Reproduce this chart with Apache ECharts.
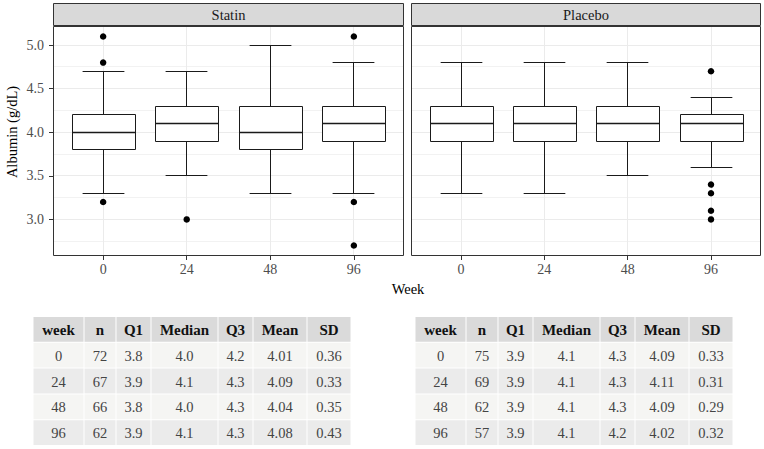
<!DOCTYPE html>
<html><head><meta charset="utf-8">
<script src="https://cdn.jsdelivr.net/npm/echarts@6/dist/echarts.min.js"></script>
<style>html,body{margin:0;padding:0;background:#fff;}#chart{width:764px;height:449px;}</style>
</head><body><div id="chart"></div>
<script>
// ---------- data ----------
const weeks = ['0', '24', '48', '96'];
const panelNames = ['Statin', 'Placebo'];
// [lower whisker, Q1, median, Q3, upper whisker]
const statinBox = [
  [3.3, 3.8, 4.0, 4.2, 4.7],
  [3.5, 3.9, 4.1, 4.3, 4.7],
  [3.3, 3.8, 4.0, 4.3, 5.0],
  [3.3, 3.9, 4.1, 4.3, 4.8]
];
const placeboBox = [
  [3.3, 3.9, 4.1, 4.3, 4.8],
  [3.3, 3.9, 4.1, 4.3, 4.8],
  [3.5, 3.9, 4.1, 4.3, 4.8],
  [3.6, 3.9, 4.1, 4.2, 4.4]
];
// [week index, value]
const statinOutliers = [[0, 5.1], [0, 4.8], [0, 3.2], [1, 3.0], [3, 5.1], [3, 3.2], [3, 2.7]];
const placeboOutliers = [[3, 4.7], [3, 3.4], [3, 3.3], [3, 3.1], [3, 3.0]];
const yTicks = [3.0, 3.5, 4.0, 4.5, 5.0];
const yMinor = [2.75, 3.25, 3.75, 4.25, 4.75];
const yRange = [2.58, 5.22];
const tableHeader = ['week', 'n', 'Q1', 'Median', 'Q3', 'Mean', 'SD'];
const statinTable = [
  ['0', '72', '3.8', '4.0', '4.2', '4.01', '0.36'],
  ['24', '67', '3.9', '4.1', '4.3', '4.09', '0.33'],
  ['48', '66', '3.8', '4.0', '4.3', '4.04', '0.35'],
  ['96', '62', '3.9', '4.1', '4.3', '4.08', '0.43']
];
const placeboTable = [
  ['0', '75', '3.9', '4.1', '4.3', '4.09', '0.33'],
  ['24', '69', '3.9', '4.1', '4.3', '4.11', '0.31'],
  ['48', '62', '3.9', '4.1', '4.3', '4.09', '0.29'],
  ['96', '57', '3.9', '4.1', '4.2', '4.02', '0.32']
];

// ---------- layout ----------
const FONT = 'Liberation Serif, DejaVu Serif, serif';
const panels = [
  { left: 53, width: 351, boxes: statinBox, outliers: statinOutliers },
  { left: 411, width: 350, boxes: placeboBox, outliers: placeboOutliers }
];
const PTOP = 26, PH = 230, STRIP_TOP = 3;
const BOX_W = 0.75, CAP_W = 0.5;
const INK = '#1a1a1a';
const crisp = v => Math.round(v - 0.5) + 0.5;

function renderBox(params, api) {
  const x = api.value(0);
  const lo = api.coord([x, api.value(1)]);
  const q1 = api.coord([x, api.value(2)]);
  const md = api.coord([x, api.value(3)]);
  const q3 = api.coord([x, api.value(4)]);
  const hi = api.coord([x, api.value(5)]);
  const bw = Math.round(api.size([BOX_W, 0])[0]);
  const cw = api.size([CAP_W, 0])[0];
  const cx = crisp(lo[0]);
  const st = { stroke: INK, lineWidth: 1, fill: null };
  const y = v => crisp(v);
  const bx = Math.round(cx - bw / 2) + 0.5;
  return {
    type: 'group', children: [
      { type: 'line', shape: { x1: cx, y1: y(hi[1]), x2: cx, y2: y(q3[1]) }, style: st },
      { type: 'line', shape: { x1: cx, y1: y(q1[1]), x2: cx, y2: y(lo[1]) }, style: st },
      { type: 'line', shape: { x1: cx - cw / 2, y1: y(hi[1]), x2: cx + cw / 2, y2: y(hi[1]) }, style: st },
      { type: 'line', shape: { x1: cx - cw / 2, y1: y(lo[1]), x2: cx + cw / 2, y2: y(lo[1]) }, style: st },
      { type: 'rect', shape: { x: bx, y: y(q3[1]), width: bw, height: y(q1[1]) - y(q3[1]) },
        style: { stroke: INK, lineWidth: 1, fill: '#fff' } },
      { type: 'line', shape: { x1: bx, y1: y(md[1]), x2: bx + bw, y2: y(md[1]) },
        style: { stroke: INK, lineWidth: 1.3 } }
    ]
  };
}
function renderHLine(params, api) {
  const cs = params.coordSys;
  const yy = crisp(api.coord([0, api.value(0)])[1]);
  return { type: 'line', shape: { x1: cs.x, y1: yy, x2: cs.x + cs.width, y2: yy },
    style: { stroke: api.value(1) > 0.8 ? '#ebebeb' : '#f2f2f2', lineWidth: 1 } };
}
function renderVLine(params, api) {
  const cs = params.coordSys;
  const xx = crisp(api.coord([api.value(0), 4])[0]);
  return { type: 'line', shape: { x1: xx, y1: cs.y, x2: xx, y2: cs.y + cs.height },
    style: { stroke: '#ebebeb', lineWidth: 1 } };
}

const grids = [], xAxes = [], yAxes = [], series = [], graphics = [];
panels.forEach((p, i) => {
  grids.push({ left: p.left, top: PTOP, width: p.width, height: PH, show: true, backgroundColor: '#fff', borderWidth: 0 });
  xAxes.push({
    type: 'value', gridIndex: i, min: -0.6, max: 3.6, position: 'bottom',
    axisLine: { show: false, onZero: false },
    axisTick: { show: true, customValues: [0, 1, 2, 3], length: 4, lineStyle: { color: '#333' } },
    axisLabel: { customValues: [0, 1, 2, 3], formatter: v => weeks[Math.round(v)], color: '#4d4d4d',
      fontSize: 14, fontFamily: FONT, margin: 6 },
    splitLine: { show: false }
  });
  yAxes.push({
    type: 'value', gridIndex: i, min: yRange[0], max: yRange[1], position: 'left',
    axisLine: { show: false, onZero: false },
    axisTick: { show: i === 0, customValues: yTicks, length: 4, lineStyle: { color: '#333' } },
    axisLabel: { show: i === 0, customValues: yTicks, formatter: v => v.toFixed(1), color: '#4d4d4d',
      fontSize: 14, fontFamily: FONT, margin: 9 },
    splitLine: { show: false }
  });
  series.push({
    type: 'custom', xAxisIndex: i, yAxisIndex: i, z: 1, silent: true,
    data: yTicks.map(v => [v, 1]).concat(yMinor.map(v => [v, 0.5])),
    encode: { y: 0 }, renderItem: renderHLine
  });
  series.push({
    type: 'custom', xAxisIndex: i, yAxisIndex: i, z: 1, silent: true,
    data: weeks.map((w, k) => [k]), encode: { x: 0 }, renderItem: renderVLine
  });
  series.push({
    type: 'custom', xAxisIndex: i, yAxisIndex: i, z: 2,
    data: p.boxes.map((b, k) => [k].concat(b)),
    encode: { x: 0, y: [1, 2, 3, 4, 5] }, renderItem: renderBox
  });
  series.push({
    type: 'scatter', xAxisIndex: i, yAxisIndex: i, z: 3,
    data: p.outliers, symbol: 'circle', symbolSize: 6.5, itemStyle: { color: '#000', opacity: 1 }
  });
  // panel border + strip
  graphics.push({ type: 'rect', z: 100, shape: { x: p.left + 0.5, y: PTOP + 0.5, width: p.width - 1, height: PH - 1 },
    style: { fill: null, stroke: '#333', lineWidth: 1 } });
  graphics.push({ type: 'rect', z: 100, shape: { x: p.left + 0.5, y: STRIP_TOP + 0.5, width: p.width - 1, height: PTOP - STRIP_TOP - 1 },
    style: { fill: '#d9d9d9', stroke: '#333', lineWidth: 1 } });
  graphics.push({ type: 'text', z: 101, x: p.left + p.width / 2, y: (STRIP_TOP + PTOP) / 2 + 0.5,
    style: { text: panelNames[i], fill: '#1a1a1a', fontSize: 14.5, fontFamily: FONT, align: 'center', verticalAlign: 'middle' } });
});

// axis titles
graphics.push({ type: 'text', z: 101, x: 408, y: 289,
  style: { text: 'Week', fill: '#000', fontSize: 14.5, fontFamily: FONT, align: 'center', verticalAlign: 'middle' } });
graphics.push({ type: 'text', z: 101, x: 12, y: 132, rotation: Math.PI / 2,
  style: { text: 'Albumin (g/dL)', fill: '#000', fontSize: 14.5, fontFamily: FONT, align: 'center', verticalAlign: 'middle' } });

// tables
const colW = [51, 32, 35, 67, 35, 54, 44];
const ROW_H = 25.8, T_TOP = 316.5;
function addTable(x0, rows) {
  const all = [tableHeader].concat(rows);
  all.forEach((row, r) => {
    let cx = x0;
    const fill = r === 0 ? '#dadada' : (r % 2 === 1 ? '#f5f5f3' : '#ebebeb');
    row.forEach((cell, c) => {
      const w = colW[c];
      graphics.push({ type: 'rect', z: 50, shape: { x: cx + 0.5, y: T_TOP + r * ROW_H + 0.5, width: w - 1, height: ROW_H - 1 },
        style: { fill: fill } });
      graphics.push({ type: 'text', z: 51, x: cx + w / 2, y: T_TOP + r * ROW_H + ROW_H / 2 + 0.5,
        style: { text: cell, fill: r === 0 ? '#111' : '#444', fontSize: r === 0 ? 15 : 14.5,
          fontWeight: r === 0 ? 'bold' : 'normal', fontFamily: FONT, align: 'center', verticalAlign: 'middle' } });
      cx += w;
    });
  });
}
addTable(33, statinTable);
addTable(415, placeboTable);

const chart = echarts.init(document.getElementById('chart'), null, { renderer: 'svg', width: 764, height: 449 });
chart.setOption({
  animation: false,
  backgroundColor: '#fff',
  grid: grids, xAxis: xAxes, yAxis: yAxes, series: series,
  graphic: { elements: graphics }
});
</script></body></html>
